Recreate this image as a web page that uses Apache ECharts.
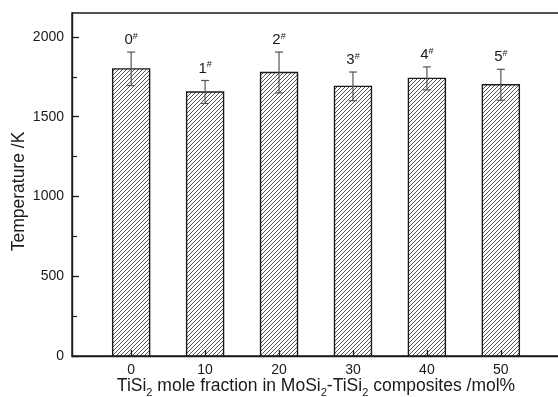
<!DOCTYPE html>
<html>
<head>
<meta charset="utf-8">
<script src="https://cdn.jsdelivr.net/npm/echarts@6/dist/echarts.min.js"></script>
<style>
  html, body { margin: 0; padding: 0; background: #fff; }
  #chart { width: 558px; height: 397px; }
</style>
</head>
<body>
<div id="chart"></div>
<script>
// TiSi2 content (mol%) of each MoSi2-TiSi2 composite
const fractions = [0, 10, 20, 30, 40, 50];
// Sample identifiers printed above each bar
const sampleIds = ['0', '1', '2', '3', '4', '5'];
// Mean temperature (K) and its error
const temperatures = [1800, 1655, 1777, 1690, 1740, 1700];
const errors = [105, 72, 128, 90, 72, 97];
// Axis ticks
const xTicks = [0, 10, 20, 30, 40, 50];
const yTicks = [0, 500, 1000, 1500, 2000];
const yMinorTicks = [250, 750, 1250, 1750];

const FONT = '"Liberation Sans", Arial, sans-serif';
const INK = '#1a1a1a';

// Diagonal hatch tile for the bars
function hatchPattern() {
  const s = 4;
  const c = document.createElement('canvas');
  c.width = s; c.height = s;
  const g = c.getContext('2d');
  g.fillStyle = '#fff';
  g.fillRect(0, 0, s, s);
  g.strokeStyle = '#555';
  g.lineWidth = 1;
  g.beginPath();
  g.moveTo(-1, s + 1); g.lineTo(s + 1, -1);
  g.moveTo(-1, 1); g.lineTo(1, -1);
  g.moveTo(s - 1, s + 1); g.lineTo(s + 1, s - 1);
  g.stroke();
  return { image: c, repeat: 'repeat' };
}

const BAR_HALF = 2.5; // half bar width in x units
const CAP = 4;        // error cap half width in px

const data = fractions.map((x, i) => [x, temperatures[i], errors[i]]);

const chart = echarts.init(document.getElementById('chart'), null, { renderer: 'canvas' });
const hatch = hatchPattern();
const plain = v => String(v);

chart.setOption({
  animation: false,
  backgroundColor: '#fff',
  grid: {
    left: 72, top: 13, right: -2, bottom: 41,
    outerBoundsMode: 'none',
    containLabel: false,
    show: true, borderColor: INK, borderWidth: 1.4, backgroundColor: 'transparent'
  },
  xAxis: {
    type: 'value',
    min: -8, max: 58,
    z: 10,
    axisLine: { show: true, onZero: false, lineStyle: { color: INK, width: 1.4 } },
    axisTick: { show: true, inside: true, length: 6, customValues: xTicks, lineStyle: { color: INK, width: 1.3 } },
    axisLabel: { customValues: xTicks, formatter: plain, margin: 7, color: INK, fontSize: 14, fontFamily: FONT },
    splitLine: { show: false },
    name: '{t|TiSi}{s|2}{t| mole fraction in MoSi}{s|2}{t|-TiSi}{s|2}{t| composites /mol%}',
    nameLocation: 'middle',
    nameMoveOverlap: false,
    nameGap: 19,
    nameTextStyle: {
      color: INK, fontFamily: FONT,
      rich: {
        t: { fontSize: 17.5, fontFamily: FONT, color: INK, lineHeight: 23 },
        s: { fontSize: 11, fontFamily: FONT, color: INK, lineHeight: 11, verticalAlign: 'bottom' }
      }
    }
  },
  yAxis: [{
    type: 'value',
    min: 0, max: 2150,
    z: 10,
    axisLine: { show: true, onZero: false, lineStyle: { color: INK, width: 1.4 } },
    axisTick: { show: true, inside: true, length: 7, customValues: yTicks, lineStyle: { color: INK, width: 1.3 } },
    axisLabel: { customValues: yTicks, formatter: plain, margin: 8, color: INK, fontSize: 14, fontFamily: FONT },
    splitLine: { show: false },
    name: 'Temperature /K',
    nameLocation: 'middle',
    nameMoveOverlap: false,
    nameGap: 44,
    nameTextStyle: { color: INK, fontSize: 17.5, fontFamily: FONT, padding: [0, 14, 0, 0] }
  }, {
    type: 'value',
    min: 0, max: 2150,
    position: 'left',
    z: 10,
    axisLine: { show: false, onZero: false },
    axisTick: { show: true, inside: true, length: 5, customValues: yMinorTicks, lineStyle: { color: INK, width: 1.2 } },
    axisLabel: { show: false },
    splitLine: { show: false }
  }],
  series: [{
    type: 'custom',
    data: data,
    encode: { x: 0, y: 1 },
    clip: false,
    renderItem: function (params, api) {
      const x = api.value(0), y = api.value(1), e = api.value(2);
      const id = sampleIds[params.dataIndex];
      const tl = api.coord([x - BAR_HALF, y]);
      const br = api.coord([x + BAR_HALF, 0]);
      const hi = api.coord([x, y + e]);
      const lo = api.coord([x, y - e]);
      return {
        type: 'group',
        children: [
          {
            type: 'rect',
            shape: { x: tl[0], y: tl[1], width: br[0] - tl[0], height: br[1] - tl[1] },
            style: { fill: hatch, stroke: INK, lineWidth: 1.4 }
          },
          {
            type: 'polyline',
            shape: { points: [[hi[0] - CAP, hi[1]], [hi[0] + CAP, hi[1]]] },
            style: { stroke: '#555', lineWidth: 1.2, fill: null }
          },
          {
            type: 'polyline',
            shape: { points: [[hi[0], hi[1]], [lo[0], lo[1]]] },
            style: { stroke: '#555', lineWidth: 1.2, fill: null }
          },
          {
            type: 'polyline',
            shape: { points: [[lo[0] - CAP, lo[1]], [lo[0] + CAP, lo[1]]] },
            style: { stroke: '#555', lineWidth: 1.2, fill: null }
          },
          {
            type: 'text',
            x: hi[0], y: hi[1] - 4,
            style: {
              text: '{n|' + id + '}{h|#}',
              align: 'center', verticalAlign: 'bottom',
              rich: {
                n: { fontSize: 15, fontFamily: FONT, fill: INK, lineHeight: 16 },
                h: { fontSize: 9, fontFamily: FONT, fill: INK, lineHeight: 9, verticalAlign: 'top' }
              }
            }
          }
        ]
      };
    }
  }]
});
</script>
</body>
</html>
